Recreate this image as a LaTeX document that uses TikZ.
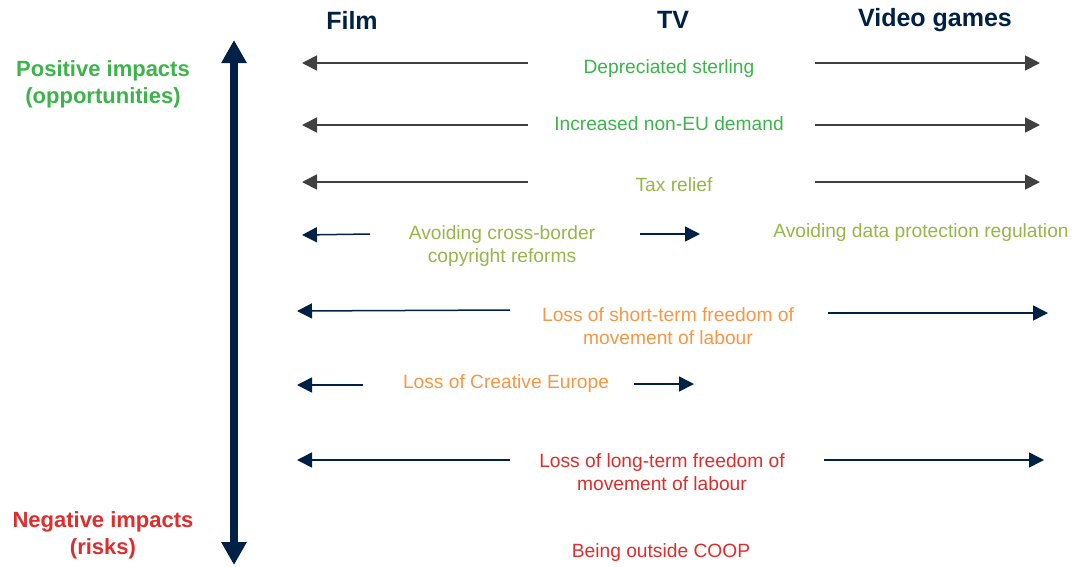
\documentclass[tikz,border=0pt]{standalone}
\usepackage{fontspec}
\setmainfont{Liberation Sans}
\usetikzlibrary{arrows.meta}

\definecolor{navy}{RGB}{0,32,70}
\definecolor{posgreen}{RGB}{60,180,75}
\definecolor{olive}{RGB}{150,182,72}
\definecolor{amber}{RGB}{247,150,70}
\definecolor{riskred}{RGB}{222,45,45}
\definecolor{arrowgray}{RGB}{64,64,64}

\begin{document}
\begin{tikzpicture}[
  x=1pt,
  y=-1pt,
  axis/.style={{Triangle[length=23pt,width=24pt]}-{Triangle[length=23pt,width=24pt]},line width=8pt,navy},
  grayarrow/.style={-{Triangle[length=15pt,width=15pt]},line width=1.8pt,arrowgray},
  navyarrow/.style={-{Triangle[length=15pt,width=15pt]},line width=1.5pt,navy},
  header/.style={font=\fontsize{25}{30}\selectfont\bfseries,text=navy,inner sep=0pt},
  sidelabel/.style={
    font=\fontsize{22}{27}\selectfont\bfseries,
    align=center,
    inner sep=0pt
  },
  impact/.style={
    font=\fontsize{19.2}{23.5}\selectfont,
    align=center,
    inner sep=0pt
  }
]
\useasboundingbox (0,0) rectangle (1085,566);

% Column headers
\node[header] (film)  at (352,20) {Film};
\node[header] (tv)    at (673,20) {TV};
\node[header] (games) at (935,20) {Video games};

% Vertical scale
\coordinate (Top) at (234,40);
\coordinate (Bottom) at (234,565);
\draw[axis] (Bottom)--(Top);

\node[sidelabel,text=posgreen] (pos) at (103,84) {Positive impacts\\(opportunities)};
\node[sidelabel,text=riskred]  (neg) at (103,535) {Negative impacts\\(risks)};

% Impacts
\node[impact,text=posgreen] (sterling) at (669,69)  {Depreciated sterling};
\node[impact,text=posgreen] (demand)   at (669,124) {Increased non-EU demand};
\node[impact,text=olive]    (tax)      at (674,185) {Tax relief};
\node[impact,text=olive]    (copy)     at (502,246) {Avoiding cross-border\\copyright reforms};
\node[impact,text=olive]    (data)     at (921,233) {Avoiding data protection regulation};
\node[impact,text=amber]    (short)    at (668,326) {Loss of short-term freedom of\\movement of labour};
\node[impact,text=amber]    (creative) at (506,384) {Loss of Creative Europe};
\node[impact,text=riskred]  (long)     at (662,472) {Loss of long-term freedom of\\movement of labour};
\node[impact,text=riskred]  (coop)     at (661,553) {Being outside COOP};

% Arrow end points
\coordinate (SterL) at (528,63);  \coordinate (SterFilm) at (302,63);
\coordinate (SterR) at (815,63);  \coordinate (SterGames) at (1040,63);
\coordinate (DemL) at (528,125);  \coordinate (DemFilm) at (302,125);
\coordinate (DemR) at (815,125);  \coordinate (DemGames) at (1040,125);
\coordinate (TaxL) at (528,182);  \coordinate (TaxFilm) at (302,182);
\coordinate (TaxR) at (815,182);  \coordinate (TaxGames) at (1040,182);
\coordinate (CopyL) at (370,234); \coordinate (CopyFilm) at (302,235);
\coordinate (CopyR) at (640,234); \coordinate (CopyTV) at (700,234);
\coordinate (ShortL) at (510,310); \coordinate (ShortFilm) at (297,311);
\coordinate (ShortR) at (828,313); \coordinate (ShortGames) at (1048,313);
\coordinate (CreaL) at (363,385); \coordinate (CreaFilm) at (297,385);
\coordinate (CreaR) at (634,384); \coordinate (CreaTV) at (694,384);
\coordinate (LongL) at (510,460); \coordinate (LongFilm) at (297,460);
\coordinate (LongR) at (824,460); \coordinate (LongGames) at (1044,460);

% Arrows
\draw[grayarrow] (SterL)--(SterFilm);
\draw[grayarrow] (SterR)--(SterGames);
\draw[grayarrow] (DemL)--(DemFilm);
\draw[grayarrow] (DemR)--(DemGames);
\draw[grayarrow] (TaxL)--(TaxFilm);
\draw[grayarrow] (TaxR)--(TaxGames);

\draw[navyarrow] (CopyL)--(CopyFilm);
\draw[navyarrow] (CopyR)--(CopyTV);
\draw[navyarrow] (ShortL)--(ShortFilm);
\draw[navyarrow] (ShortR)--(ShortGames);
\draw[navyarrow] (CreaL)--(CreaFilm);
\draw[navyarrow] (CreaR)--(CreaTV);
\draw[navyarrow] (LongL)--(LongFilm);
\draw[navyarrow] (LongR)--(LongGames);
\end{tikzpicture}
\end{document}
